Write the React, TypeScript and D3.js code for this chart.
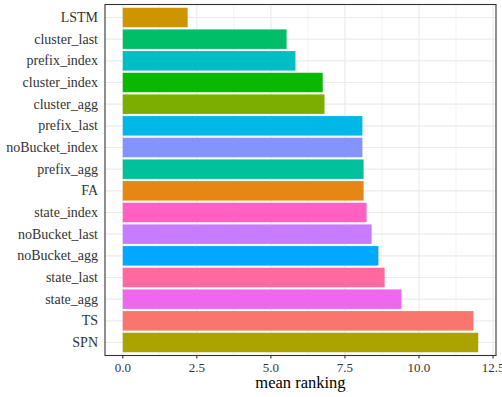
import React from 'react';
import * as d3 from 'd3';

const methods = [
  'LSTM', 'cluster_last', 'prefix_index', 'cluster_index', 'cluster_agg',
  'prefix_last', 'noBucket_index', 'prefix_agg', 'FA', 'state_index',
  'noBucket_last', 'noBucket_agg', 'state_last', 'state_agg', 'TS', 'SPN',
];
const meanRanking = [
  2.19, 5.53, 5.83, 6.75, 6.81, 8.09, 8.09, 8.13, 8.13, 8.23,
  8.4, 8.63, 8.84, 9.41, 11.84, 12.0,
];
const barColors = [
  '#CD9600', '#00BE67', '#00BFC4', '#0CB702', '#7CAE00', '#00B8E7', '#8494FF', '#00C19A',
  '#E68613', '#FF61C3', '#C77CFF', '#00A9FF', '#FF68A1', '#ED68ED', '#F8766D', '#ABA300',
];
const xTicks = [0, 2.5, 5, 7.5, 10, 12.5];
const xMinor = [1.25, 3.75, 6.25, 8.75, 11.25];

const W = 502;
const H = 397;
const panel = { left: 105, right: 496, top: 4.5, bottom: 355.5 };
const font = 'Liberation Serif';

export default function App() {
  const x = d3.scaleLinear().domain([-0.6, 12.6]).range([panel.left, panel.right]);
  const y = d3.scalePoint<string>().domain(methods).range([panel.top, panel.bottom]).padding(0.6);
  const barH = y.step() * 0.9;

  return (
    <svg width={W} height={H} fontFamily={font} style={{ position: 'absolute', left: 0, top: 0, fontFamily: font }}>
      <style>{`text { font-family: 'Liberation Serif', serif; }`}</style>
      <rect x={panel.left} y={panel.top} width={panel.right - panel.left} height={panel.bottom - panel.top} fill="#fff" />
      {xMinor.map(t => (
        <line key={'mn' + t} x1={x(t)} x2={x(t)} y1={panel.top} y2={panel.bottom} stroke="#ebebeb" strokeWidth={0.6} />
      ))}
      {xTicks.map(t => (
        <line key={'mj' + t} x1={x(t)} x2={x(t)} y1={panel.top} y2={panel.bottom} stroke="#ebebeb" strokeWidth={1.1} />
      ))}
      {methods.map(m => (
        <line key={'hg' + m} x1={panel.left} x2={panel.right} y1={y(m)} y2={y(m)} stroke="#ebebeb" strokeWidth={1.1} />
      ))}
      {methods.map((m, i) => (
        <rect key={'b' + m} x={x(0)} y={(y(m) as number) - barH / 2} width={x(meanRanking[i]) - x(0)} height={barH} fill={barColors[i]} />
      ))}
      <rect x={panel.left} y={panel.top} width={panel.right - panel.left} height={panel.bottom - panel.top} fill="none" stroke="#333" strokeWidth={1.1} />
      {methods.map(m => (
        <text key={'yl' + m} x={panel.left - 7} y={y(m)} dy="0.33em" textAnchor="end" fontSize={14} fill="#333" fontFamily={font}>{m}</text>
      ))}
      {xTicks.map(t => (
        <g key={'xt' + t}>
          <line x1={x(t)} x2={x(t)} y1={panel.bottom} y2={panel.bottom + 3} stroke="#333" strokeWidth={1.1} />
          <text x={x(t)} y={371.5} textAnchor="middle" fontSize={13} fill="#333" fontFamily={font}>{d3.format('.1f')(t)}</text>
        </g>
      ))}
      <text x={(panel.left + panel.right) / 2} y={388} textAnchor="middle" fontSize={16.5} fill="#000" fontFamily={font}>mean ranking</text>
    </svg>
  );
}
